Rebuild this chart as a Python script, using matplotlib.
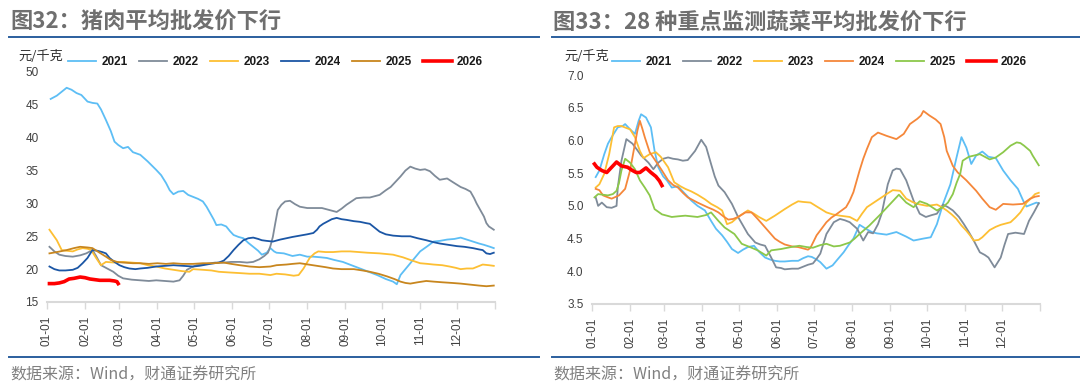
import matplotlib
matplotlib.use('Agg')
import matplotlib.pyplot as plt
from matplotlib.lines import Line2D

plt.rcParams['font.family'] = ['Liberation Sans', 'Noto Sans CJK SC', 'DejaVu Sans']

# ---------------- data (day of year, value) ----------------
month_days = [0, 31, 59, 90, 120, 151, 181, 212, 243, 273, 304, 334]
month_labels = ['01-01', '02-01', '03-01', '04-01', '05-01', '06-01',
                '07-01', '08-01', '09-01', '10-01', '11-01', '12-01']
years = ['2021', '2022', '2023', '2024', '2025', '2026']

pork_2021 = [(3,45.9),(8,46.4),(12,47.0),(16,47.6),(20,47.3),(24,46.8),(28,46.5),(33,45.5),(37,45.3),(41,45.2),
             (44,44.3),(48,42.7),(52,41.0),(55,39.4),(58,38.9),(62,38.4),(66,38.6),(70,37.8),(76,37.4),(82,36.4),
             (89,35.1),(93,34.3),(97,33.1),(100,32.0),(103,31.4),(107,31.8),(111,31.9),(115,31.3),(119,31.0),
             (123,30.7),(127,30.3),(130,29.5),(133,28.5),(136,27.5),(138,26.7),(142,26.8),(146,26.5),(149,25.8),
             (152,25.2),(156,24.9),(160,24.7),(164,24.0),(168,23.4),(172,22.8),(175,22.2),(179,22.5),(182,23.2),
             (185,22.7),(187,22.5),(193,22.4),(200,22.0),(206,22.2),(212,21.9),(217,21.9),(223,21.8),(228,21.7),
             (234,21.4),(241,21.1),(248,20.6),(255,20.1),(262,19.6),(269,19.1),(276,18.5),(282,18.1),(285,17.7),
             (288,19.1),(292,20.0),(296,20.9),(300,21.8),(304,22.7),(310,23.5),(315,24.2),(320,24.3),(326,24.5),
             (332,24.6),(337,24.8),(342,24.5),(347,24.2),(352,23.9),(356,23.7),(361,23.4),(364,23.2)]
pork_2022 = [(2,23.4),(6,22.7),(10,22.2),(15,22.0),(21,21.9),(27,22.1),(32,22.4),(37,22.9),(40,22.0),(44,20.6),
             (49,20.1),(54,19.6),(58,19.0),(62,18.6),(69,18.4),(76,18.3),(83,18.2),(89,18.3),(96,18.2),(103,18.1),
             (108,18.3),(111,19.0),(114,19.9),(118,20.3),(122,20.6),(130,20.8),(137,21.0),(144,21.0),(150,21.1),
             (157,21.1),(163,21.0),(168,21.1),(173,21.5),(177,22.0),(180,22.5),(182,23.5),(184,24.9),(186,27.0),
             (188,29.0),(191,29.8),(194,30.3),(198,30.4),(202,29.9),(206,29.5),(212,29.3),(217,29.3),(224,29.3),
             (230,29.0),(236,28.7),(240,29.2),(244,29.8),(248,30.3),(252,30.8),(258,30.9),(263,30.9),(271,31.3),
             (276,32.0),(280,32.5),(284,33.3),(288,34.1),(292,35.0),(296,35.6),(300,35.3),(304,35.1),(308,35.2),
             (312,34.9),(316,34.2),(320,33.6),(326,33.8),(331,33.2),(337,32.5),(341,32.2),(345,31.8),(348,30.8),
             (350,30.0),(353,29.0),(356,28.0),(358,27.0),(360,26.5),(364,26.0)]
pork_2023 = [(2,26.0),(5,25.2),(8,24.4),(12,22.9),(16,22.8),(21,22.7),(25,23.0),(29,23.2),(33,23.1),(36,22.9),
             (38,22.3),(40,21.7),(44,20.6),(48,21.1),(55,21.0),(62,21.1),(69,21.0),(76,20.9),(82,20.6),(89,20.4),
             (96,20.1),(103,19.9),(110,19.7),(116,19.6),(119,20.0),(127,19.9),(134,19.8),(140,19.6),(148,19.5),
             (157,19.4),(165,19.3),(173,19.3),(182,19.1),(187,19.3),(194,19.2),(201,19.0),(205,19.1),(209,20.1),
             (214,21.7),(218,22.4),(221,22.7),(227,22.6),(233,22.6),(240,22.7),(247,22.7),(254,22.6),(261,22.5),
             (271,22.4),(282,22.2),(290,21.8),(296,21.4),(304,20.9),(310,20.8),(315,20.7),(322,20.6),(328,20.4),
             (333,20.2),(337,20.0),(342,20.1),(347,20.1),(351,20.4),(355,20.7),(360,20.6),(364,20.5)]
pork_2024 = [(2,20.4),(6,20.0),(10,19.8),(15,19.8),(21,19.9),(25,20.2),(29,20.9),(33,21.7),(37,22.9),(41,22.8),
             (45,22.6),(48,22.4),(51,21.7),(55,21.1),(59,20.6),(63,20.3),(67,20.1),(72,20.0),(76,20.1),(82,20.2),
             (89,20.4),(96,20.5),(103,20.6),(111,20.5),(119,20.4),(124,20.5),(127,20.6),(133,20.8),(140,21.0),
             (144,21.3),(148,22.0),(152,22.9),(156,23.7),(160,24.4),(164,24.7),(168,24.8),(172,24.6),(175,24.4),
             (179,24.3),(184,24.2),(190,24.5),(195,24.7),(200,24.9),(206,25.1),(212,25.3),(217,25.5),(220,26.0),
             (222,26.5),(225,26.9),(228,27.2),(232,27.6),(236,27.8),(240,27.6),(244,27.5),(250,27.3),(255,27.2),
             (260,27.0),(263,26.9),(267,26.3),(271,25.7),(276,25.3),(282,25.1),(289,25.0),(296,25.0),(302,24.7),
             (309,24.4),(315,24.1),(320,23.9),(327,23.7),(334,23.5),(340,23.4),(347,23.2),(352,23.0),(355,22.9),
             (358,22.4),(361,22.3),(364,22.5)]
pork_2025 = [(2,22.4),(8,22.6),(16,22.9),(22,23.2),(27,23.4),(33,23.3),(37,23.2),(42,22.6),(48,21.9),(52,21.4),
             (57,21.1),(62,21.0),(70,20.9),(76,20.9),(83,20.8),(90,20.9),(97,20.8),(103,20.9),(110,20.8),(119,20.8),
             (127,20.9),(135,20.9),(144,21.0),(150,20.8),(157,20.6),(165,20.4),(173,20.3),(182,20.4),(187,20.6),
             (195,20.7),(200,20.8),(206,20.9),(213,20.7),(220,20.5),(227,20.3),(233,20.1),(240,20.0),(250,20.0),
             (257,19.8),(263,19.6),(270,19.3),(277,18.9),(283,18.5),(288,18.1),(292,17.9),(296,17.8),(302,18.0),
             (309,18.2),(315,18.1),(322,18.0),(330,17.9),(337,17.8),(342,17.7),(347,17.6),(352,17.5),(358,17.4),
             (364,17.5)]
pork_2026 = [(2,17.8),(6,17.8),(10,17.9),(14,18.1),(18,18.5),(22,18.6),(27,18.8),(31,18.7),(35,18.5),(39,18.4),
             (43,18.3),(47,18.3),(51,18.3),(55,18.2),(57,18.1),(58,17.8)]

veg_2021 = [(3,5.44),(6,5.54),(10,5.79),(13,5.95),(16,6.05),(21,6.20),(25,6.22),(27,6.25),(31,6.17),(35,6.10),
            (38,6.30),(40,6.40),(44,6.35),(48,6.20),(51,5.84),(54,5.59),(58,5.45),(61,5.39),(65,5.28),(70,5.30),
            (75,5.20),(81,5.08),(86,5.00),(92,4.93),(97,4.77),(101,4.65),(106,4.55),(110,4.45),(114,4.34),
            (119,4.28),(123,4.33),(127,4.37),(132,4.39),(136,4.30),(141,4.21),(145,4.18),(149,4.16),(153,4.15),
            (157,4.15),(163,4.16),(168,4.16),(172,4.20),(176,4.23),(179,4.22),(183,4.18),(186,4.14),(191,4.04),
            (196,4.09),(200,4.18),(205,4.29),(209,4.40),(213,4.50),(218,4.71),(224,4.64),(228,4.60),(232,4.58),
            (240,4.56),(248,4.60),(256,4.53),(262,4.47),(270,4.50),(276,4.52),(281,4.72),(286,5.03),(292,5.33),
            (297,5.74),(301,6.05),(305,5.89),(309,5.64),(313,5.77),(318,5.83),(323,5.75),(329,5.73),(335,5.54),
            (341,5.39),(347,5.26),(352,5.05),(354,4.99),(358,5.02),(362,5.05),(364,5.04)]
veg_2022 = [(3,5.13),(5,5.00),(8,5.05),(12,4.98),(16,4.97),(20,5.00),(21,5.28),(24,5.69),(28,6.02),(33,5.95),
            (37,5.85),(40,5.77),(46,5.66),(50,5.56),(54,5.66),(58,5.72),(62,5.74),(66,5.72),(70,5.71),(74,5.69),
            (78,5.70),(84,5.84),(89,6.01),(93,5.90),(97,5.64),(100,5.45),(103,5.31),(108,5.21),(114,5.03),
            (119,4.83),(123,4.70),(127,4.57),(133,4.44),(137,4.41),(141,4.39),(146,4.21),(150,4.06),(154,4.05),
            (157,4.03),(163,4.04),(168,4.04),(172,4.07),(176,4.10),(180,4.12),(183,4.19),(186,4.27),(191,4.57),
            (197,4.75),(202,4.80),(206,4.78),(210,4.75),(216,4.65),(221,4.47),(225,4.60),(229,4.58),(233,4.72),
            (236,4.88),(241,5.33),(245,5.54),(248,5.57),(251,5.56),(256,5.39),(262,5.08),(267,4.88),(272,4.83),
            (277,4.86),(281,4.88),(286,5.02),(290,4.98),(294,4.93),(299,4.83),(303,4.72),(307,4.60),(311,4.47),
            (316,4.29),(320,4.25),(323,4.21),(328,4.06),(331,4.15),(333,4.21),(336,4.40),(339,4.57),(345,4.59),
            (352,4.57),(356,4.77),(360,4.90),(364,5.04)]
veg_2023 = [(3,5.28),(6,5.33),(10,5.49),(14,5.79),(18,6.20),(21,6.22),(24,6.22),(28,6.19),(31,6.17),(35,6.05),
            (39,5.84),(42,5.73),(47,5.79),(52,5.82),(56,5.75),(62,5.59),(67,5.36),(72,5.30),(76,5.26),(81,5.22),
            (86,5.17),(92,5.10),(97,5.03),(102,4.98),(106,4.93),(110,4.72),(114,4.75),(119,4.83),(123,4.88),
            (127,4.93),(132,4.88),(136,4.83),(142,4.77),(149,4.85),(153,4.90),(157,4.95),(163,5.02),(168,5.07),
            (172,5.06),(178,5.05),(184,4.98),(191,4.90),(196,4.87),(202,4.85),(210,4.83),(216,4.77),(220,4.88),
            (224,4.98),(228,5.03),(232,5.08),(236,5.13),(240,5.18),(245,5.24),(251,5.23),(256,5.11),(261,5.06),
            (265,5.03),(273,5.00),(281,5.02),(285,4.98),(289,4.93),(293,4.87),(297,4.80),(301,4.70),(305,4.62),
            (308,4.55),(311,4.47),(315,4.48),(318,4.52),(324,4.63),(329,4.68),(333,4.71),(337,4.73),(341,4.75),
            (345,4.82),(349,4.90),(354,5.05),(358,5.12),(361,5.18),(364,5.20)]
veg_2024 = [(3,5.26),(6,5.24),(9,5.16),(13,5.13),(16,5.11),(22,5.16),(27,5.26),(31,5.54),(35,5.95),(37,6.15),
            (39,6.30),(41,6.18),(43,6.05),(47,5.82),(51,5.71),(57,5.54),(62,5.39),(66,5.32),(70,5.28),(74,5.20),
            (78,5.13),(86,5.05),(94,4.98),(99,4.94),(103,4.90),(107,4.84),(111,4.79),(115,4.80),(119,4.83),
            (125,4.90),(130,4.90),(135,4.80),(142,4.65),(149,4.50),(153,4.45),(157,4.41),(163,4.38),(168,4.37),
            (172,4.35),(176,4.33),(178,4.36),(183,4.55),(187,4.65),(191,4.75),(195,4.82),(199,4.87),(207,4.98),
            (210,5.08),(213,5.21),(218,5.54),(221,5.72),(224,5.87),(228,6.05),(233,6.12),(240,6.07),(248,6.02),
            (254,6.10),(259,6.25),(265,6.33),(268,6.38),(270,6.45),(275,6.38),(280,6.32),(284,6.25),(287,6.05),
            (289,5.84),(294,5.61),(298,5.51),(305,5.39),(313,5.23),(318,5.11),(324,4.98),(329,4.94),(335,5.03),
            (343,5.02),(351,5.03),(357,5.11),(361,5.14),(364,5.15)]
veg_2025 = [(2,5.13),(5,5.18),(9,5.17),(13,5.16),(17,5.18),(20,5.23),(22,5.35),(24,5.54),(27,5.72),(31,5.66),
            (35,5.56),(39,5.39),(43,5.28),(47,5.16),(51,4.95),(57,4.87),(65,4.83),(70,4.84),(76,4.85),(86,4.83),
            (93,4.86),(97,4.90),(103,4.77),(108,4.67),(116,4.57),(122,4.42),(130,4.36),(135,4.32),(142,4.24),
            (146,4.32),(154,4.34),(162,4.37),(169,4.39),(175,4.37),(180,4.36),(186,4.40),(191,4.42),(197,4.38),
            (202,4.39),(210,4.44),(214,4.50),(218,4.57),(226,4.70),(235,4.87),(243,5.03),(250,5.17),(256,5.05),
            (262,4.98),(267,5.07),(273,5.03),(281,4.93),(286,4.98),(290,5.05),(294,5.18),(297,5.35),(300,5.49),
            (302,5.69),(307,5.75),(316,5.79),(324,5.71),(329,5.74),(335,5.82),(341,5.92),(346,5.97),(349,5.96),
            (352,5.92),(357,5.84),(359,5.77),(362,5.68),(364,5.62)]
veg_2026 = [(2,5.64),(4,5.59),(8,5.54),(12,5.51),(16,5.59),(20,5.67),(24,5.61),(29,5.59),(33,5.54),(36,5.51),
            (39,5.51),(44,5.58),(48,5.51),(52,5.45),(55,5.38),(57,5.31)]

pork_series = [pork_2021, pork_2022, pork_2023, pork_2024, pork_2025, pork_2026]
veg_series = [veg_2021, veg_2022, veg_2023, veg_2024, veg_2025, veg_2026]
pork_yticks = [15, 20, 25, 30, 35, 40, 45, 50]
veg_yticks = [3.5, 4.0, 4.5, 5.0, 5.5, 6.0, 6.5, 7.0]

pork_colors = ['#5DBEF5', '#7F8B99', '#FDBF33', '#1B56A5', '#C8861E', '#FF0000']
veg_colors = ['#5DBEF5', '#7F8B99', '#FDBF33', '#F5873A', '#8CC84B', '#FF0000']

titles = ['图32：猪肉平均批发价下行', '图33：28 种重点监测蔬菜平均批发价下行']
source = '数据来源：Wind，财通证券研究所'
unit = '元/千克'

# ---------------- figure ----------------
W, H = 1080, 388
fig = plt.figure(figsize=(W / 100, H / 100), dpi=100)


def fx(px):
    return px / W


def fy(py):
    return 1 - py / H


cjk = ['Noto Sans CJK SC', 'DejaVu Sans']


def draw_panel(x0, x_left, x_right, series, colors, yticks, ylabels, y_top, y_bot, title, ylab_x, leg_x):
    ax = fig.add_axes([fx(x_left), fy(y_bot), fx(x_right - x_left), fy(y_top) - fy(y_bot)])
    for yr, data, c in zip(years, series, colors):
        xs = [d for d, _ in data]
        ys = [v for _, v in data]
        lw = 2.6 if yr == '2026' else 1.3
        ax.plot(xs, ys, color=c, lw=lw, label=yr, solid_joinstyle='round', zorder=5 if yr == '2026' else 3)
    ax.set_xlim(0, 365)
    ax.set_ylim(yticks[0], yticks[-1])
    ax.set_yticks(yticks)
    ax.set_yticklabels(ylabels)
    ax.set_xticks(month_days + [365])
    ax.set_xticklabels(month_labels + [''], rotation=90)
    for s in ['top', 'right', 'left']:
        ax.spines[s].set_visible(False)
    ax.spines['bottom'].set_color('#D9D9D9')
    ax.spines['bottom'].set_linewidth(1.5)
    ax.tick_params(axis='y', length=0, labelsize=8.5, pad=6, labelcolor='#404040')
    ax.tick_params(axis='x', length=5, width=1, color='#D9D9D9', labelsize=8.5, pad=5, labelcolor='#404040')
    ax.patch.set_alpha(0)

    leg = ax.legend(loc='center left', bbox_to_anchor=(fx(leg_x), fy(62)), bbox_transform=fig.transFigure,
                    ncol=6, frameon=False, borderpad=0, borderaxespad=0, handlelength=2.4,
                    handletextpad=0.45, columnspacing=0.95,
                    prop={'family': 'Liberation Sans', 'weight': 'bold', 'size': 8.5})
    for t in leg.get_texts():
        t.set_color('#1A1A1A')

    fig.text(fx(x0 + 10), fy(22), title, fontsize=16, fontweight='bold', color='#6F6F6F',
             va='center', ha='left', family=cjk)
    fig.add_artist(Line2D([fx(x0 + 9), fx(x0 + 539)], [fy(37), fy(37)], color='#2B5F9E', lw=1.4))
    fig.add_artist(Line2D([fx(x0 + 9), fx(x0 + 539)], [fy(357), fy(357)], color='#2B5F9E', lw=1.4))
    fig.text(fx(x0 + 10), fy(375), source, fontsize=11.5, color='#808080', va='center', ha='left', family=cjk)
    fig.text(fx(ylab_x), fy(56), unit, fontsize=9.5, color='#333333', va='center', ha='left', family=cjk)
    return ax


draw_panel(0, 47, 495, pork_series, pork_colors, pork_yticks, [str(v) for v in pork_yticks],
           72, 302, titles[0], 18, 68)
draw_panel(543, 592, 1040, veg_series, veg_colors, veg_yticks, ['%.1f' % v for v in veg_yticks],
           75, 304, titles[1], 564, 612)

fig.savefig('out.png', dpi=100)
